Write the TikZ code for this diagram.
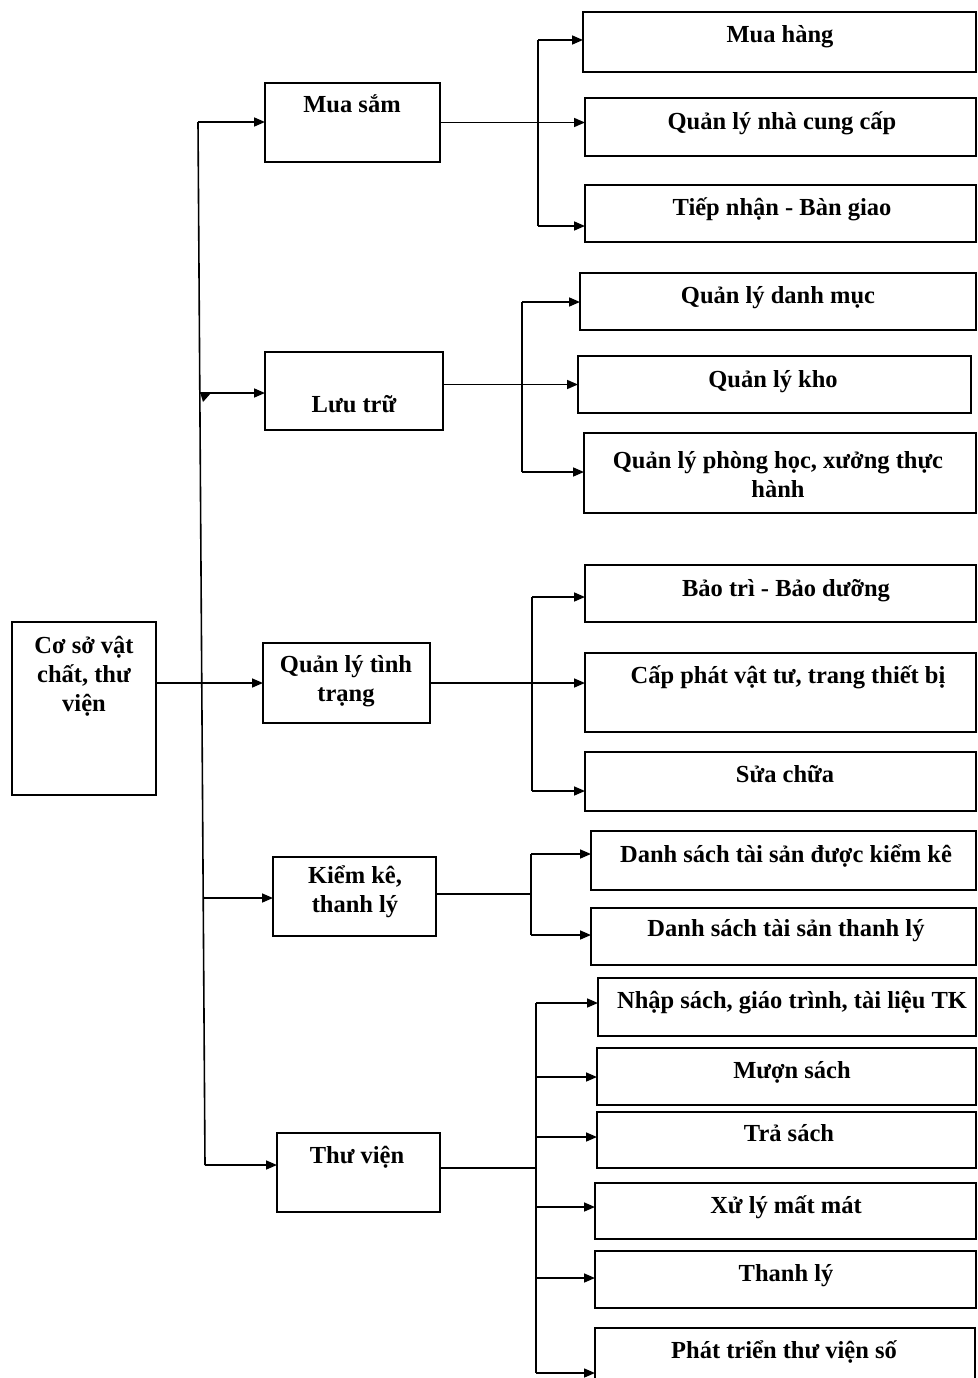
\documentclass[tikz,border=0pt]{standalone}
\usepackage{fontspec}
\setmainfont{Liberation Serif}
\usetikzlibrary{arrows.meta,calc}
\begin{document}
\begin{tikzpicture}[x=1pt,y=-1pt,
  box/.style={draw, line width=1.8pt, rectangle, inner sep=0pt, outer sep=0pt, anchor=north west},
  lbl/.style={font=\fontsize{24.5}{29}\selectfont\bfseries, inner sep=0pt, anchor=base},
  ln/.style={line width=1.6pt},
  arr/.style={line width=1.6pt, -{Triangle[length=11pt,width=9pt]}}]
\useasboundingbox (0,0) rectangle (977,1378);
\clip (0,0) rectangle (977,1378);
% root
\node[box, minimum width=144pt, minimum height=173pt] (root) at (12,622) {};
\node[lbl] (root-t) at (84,653) {\begin{tabular}[t]{@{}c@{}}Cơ sở vật\\chất, thư\\viện\end{tabular}};
% level 1
\node[box, minimum width=175pt, minimum height=79pt] (ms) at (265,83) {};
\node[lbl] (ms-t) at (352,113) {Mua sắm};
\node[box, minimum width=178pt, minimum height=78pt] (ll) at (265,352) {};
\node[lbl] (ll-t) at (354,412) {Lưu trữ};
\node[box, minimum width=167pt, minimum height=80pt] (tt) at (263,643) {};
\node[lbl] (tt-t) at (346,672) {\begin{tabular}[t]{@{}c@{}}Quản lý tình\\trạng\end{tabular}};
\node[box, minimum width=163pt, minimum height=79pt] (kk) at (273,857) {};
\node[lbl] (kk-t) at (355,883) {\begin{tabular}[t]{@{}c@{}}Kiểm kê,\\thanh lý\end{tabular}};
\node[box, minimum width=163pt, minimum height=79pt] (tv) at (277,1133) {};
\node[lbl] (tv-t) at (357,1163) {Thư viện};
% level 2 : Mua sam
\node[box, minimum width=393pt, minimum height=60pt] (mh) at (583,12) {};
\node[lbl] (mh-t) at (780,43) {Mua hàng};
\node[box, minimum width=391pt, minimum height=58pt] (ncc) at (585,98) {};
\node[lbl] (ncc-t) at (782,130) {Quản lý nhà cung cấp};
\node[box, minimum width=391pt, minimum height=57pt] (tn) at (585,185) {};
\node[lbl] (tn-t) at (782,215) {Tiếp nhận - Bàn giao};
% Luu tru
\node[box, minimum width=396pt, minimum height=57pt] (dm) at (580,273) {};
\node[lbl] (dm-t) at (778,303) {Quản lý danh mục};
\node[box, minimum width=393pt, minimum height=57pt] (kho) at (578,356) {};
\node[lbl] (kho-t) at (773,387) {Quản lý kho};
\node[box, minimum width=392pt, minimum height=80pt] (ph) at (584,433) {};
\node[lbl] (ph-t) at (778,468) {\begin{tabular}[t]{@{}c@{}}Quản lý phòng học, xưởng thực\\hành\end{tabular}};
% Quan ly tinh trang
\node[box, minimum width=391pt, minimum height=57pt] (bt) at (585,565) {};
\node[lbl] (bt-t) at (786,596) {Bảo trì - Bảo dưỡng};
\node[box, minimum width=391pt, minimum height=79pt] (cp) at (585,653) {};
\node[lbl] (cp-t) at (788,683) {Cấp phát vật tư, trang thiết bị};
\node[box, minimum width=391pt, minimum height=59pt] (sc) at (585,752) {};
\node[lbl] (sc-t) at (785,782) {Sửa chữa};
% Kiem ke
\node[box, minimum width=385pt, minimum height=59pt] (dk) at (591,831) {};
\node[lbl] (dk-t) at (786,862) {Danh sách tài sản được kiểm kê};
\node[box, minimum width=385pt, minimum height=57pt] (dt) at (591,908) {};
\node[lbl] (dt-t) at (786,936) {Danh sách tài sản thanh lý};
% Thu vien
\node[box, minimum width=378pt, minimum height=58pt] (ns) at (598,978) {};
\node[lbl] (ns-t) at (792,1008) {Nhập sách, giáo trình, tài liệu TK};
\node[box, minimum width=379pt, minimum height=57pt] (mu) at (597,1048) {};
\node[lbl] (mu-t) at (792,1078) {Mượn sách};
\node[box, minimum width=379pt, minimum height=56pt] (tr) at (597,1112) {};
\node[lbl] (tr-t) at (789,1141) {Trả sách};
\node[box, minimum width=381pt, minimum height=56pt] (xl) at (595,1183) {};
\node[lbl] (xl-t) at (786,1213) {Xử lý mất mát};
\node[box, minimum width=381pt, minimum height=57pt] (tl) at (595,1251) {};
\node[lbl] (tl-t) at (786,1281) {Thanh lý};
\node[box, minimum width=380pt, minimum height=70pt] (pt) at (595,1328) {};
\node[lbl] (pt-t) at (784,1358) {Phát triển thư viện số};
% trunk
\coordinate (tA) at (198,122);
\coordinate (tB) at (200,393);
\coordinate (tD) at (203,898);
\coordinate (tE) at (205,1165);
\draw[ln] (tA) -- (tE);
\draw[arr] (tA) -- (tA -| ms.west);
\draw[arr] (tB) -- (tB -| ll.west);
\draw[arr] (tD) -- (tD -| kk.west);
\draw[arr] (tE) -- (tE -| tv.west);
\fill (200,392) -- (211,393) -- (203,402) -- cycle;
\draw[arr] (root.east |- tt.west) -- (tt.west);
% group 1
\coordinate (g1a) at (538,40);
\coordinate (g1c) at (538,226);
\draw[ln] (g1a) -- (g1c);
\draw[arr] (g1a) -- (g1a -| mh.west);
\draw[arr] (ms.east) -- (ms.east -| ncc.west);
\draw[arr] (g1c) -- (g1c -| tn.west);
% group 2
\coordinate (g2a) at (522,302);
\coordinate (g2c) at (522,472);
\draw[ln] (g2a) -- (g2c);
\draw[arr] (g2a) -- (g2a -| dm.west);
\draw[arr] (ll.east |- kho.west) -- (kho.west);
\draw[arr] (g2c) -- (g2c -| ph.west);
% group 3
\coordinate (g3a) at (532,597);
\coordinate (g3c) at (532,791);
\draw[ln] (g3a) -- (g3c);
\draw[arr] (g3a) -- (g3a -| bt.west);
\draw[arr] (tt.east) -- (tt.east -| cp.west);
\draw[arr] (g3c) -- (g3c -| sc.west);
% group 4
\coordinate (g4a) at (531,854);
\coordinate (g4b) at (531,894);
\coordinate (g4c) at (531,935);
\draw[ln] (g4a) -- (g4c);
\draw[ln] (kk.east |- g4b) -- (g4b);
\draw[arr] (g4a) -- (g4a -| dk.west);
\draw[arr] (g4c) -- (g4c -| dt.west);
% group 5
\coordinate (g5a) at (536,1003);
\coordinate (g5b) at (536,1168);
\coordinate (g5f) at (536,1373);
\draw[ln] (g5a) -- (g5f);
\draw[ln] (tv.east |- g5b) -- (g5b);
\draw[arr] (g5a) -- (g5a -| ns.west);
\draw[arr] (536,1077) -- (mu.west |- 536,1077);
\draw[arr] (536,1137) -- (tr.west |- 536,1137);
\draw[arr] (536,1207) -- (xl.west |- 536,1207);
\draw[arr] (536,1278) -- (tl.west |- 536,1278);
\draw[arr] (g5f) -- (g5f -| pt.west);
\end{tikzpicture}
\end{document}
